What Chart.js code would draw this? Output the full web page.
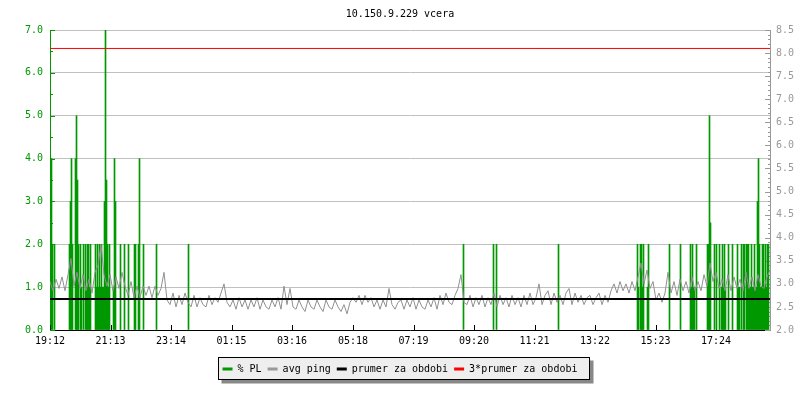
<!DOCTYPE html>
<html>
<head>
<meta charset="utf-8">
<title>10.150.9.229 vcera</title>
<script src="https://cdn.jsdelivr.net/npm/chart.js@4.4.0/dist/chart.umd.min.js"></script>
<style>
  html, body { margin: 0; padding: 0; background: #ffffff; }
  #wrap { width: 800px; height: 400px; }
</style>
</head>
<body>
<div id="wrap"><canvas id="myChart" width="800" height="400"></canvas></div>
<script>
// ---- data ----
const chartTitle = '10.150.9.229 vcera';
const seriesNames = ['% PL', 'avg ping', 'prumer za obdobi', '3*prumer za obdobi'];
const xTickLabels = ['19:12', '21:13', '23:14', '01:15', '03:16', '05:18', '07:19', '09:20', '11:21', '13:22', '15:23', '17:24'];

// packet loss: sample number (one sample = 2 minutes from 19:12) and % value, only non zero samples
const plSample = [1, 2, 4,
    19, 20, 21, 22,
    25, 26, 27, 28,
    30, 31, 33,
    35, 36, 37, 38, 39, 40,
    45, 46, 47, 48, 49, 50, 51, 52, 53, 54, 55, 56, 57, 58, 59,
    63, 64, 65,
    70, 74, 78, 84, 85, 88, 89, 93, 106,
    138,
    413, 443, 446, 508,
    587, 588, 590, 591, 592, 593, 597, 598,
    619, 630, 640, 641, 642, 643, 644, 646,
    657, 658, 659, 660,
    664, 666, 669, 671, 672, 673, 674, 675,
    678, 682, 687, 688, 689, 691, 693, 694, 696, 697, 698,
    699, 700, 701, 702, 703, 704, 705, 706, 707, 708, 709, 710, 711, 712, 713, 714, 715, 716, 717, 718];
const plValue = [4, 2, 2,
    2, 3, 4, 2,
    4, 5, 3.5, 2,
    2, 1, 2,
    2, 1, 2, 2, 1, 2,
    2, 1, 2, 1, 2, 1, 2, 1, 1, 3, 7, 3.5, 2, 1, 2,
    1, 4, 3,
    2, 2, 2, 2, 2, 2, 4, 2, 2,
    2,
    2, 2, 2, 2,
    2, 1, 2, 2, 1, 2, 1, 2,
    2, 2, 2, 1, 2, 1, 1, 2,
    2, 2, 5, 2.5,
    2, 2, 2, 1, 2, 1, 2, 1,
    2, 2, 2, 1, 1, 2, 2, 2, 2, 2, 2,
    1, 1, 2, 1, 1, 2, 1, 1, 3, 4, 2, 1, 1, 2, 2, 1, 2, 1, 2, 2];

// avg ping (right axis), one value every 6 minutes from 19:12
const avgPing = [
    3.05, 2.85, 3.1, 2.9, 3.15, 2.85, 3.2, 3.55, 2.95, 3.25,
    2.9, 3.2, 2.85, 3.1, 2.8, 3.25, 3.4, 3.85, 3.2, 2.95,
    3.2, 2.85, 3.15, 2.9, 3.25, 2.95, 2.75, 3.05, 2.7, 2.95,
    2.7, 2.95, 2.75, 2.95, 2.7, 2.95, 2.75, 2.9, 3.25, 2.65,
    2.55, 2.8, 2.5, 2.75, 2.55, 2.8, 2.6, 2.5, 2.75, 2.5,
    2.7, 2.55, 2.5, 2.75, 2.55, 2.7, 2.6, 2.8, 3.0, 2.6,
    2.5, 2.65, 2.45, 2.7, 2.5, 2.65, 2.45, 2.65, 2.5, 2.7,
    2.45, 2.65, 2.5, 2.45, 2.65, 2.5, 2.7, 2.45, 2.95, 2.55,
    2.9, 2.5, 2.45, 2.65, 2.5, 2.4, 2.65, 2.5, 2.45, 2.65,
    2.5, 2.4, 2.65, 2.5, 2.45, 2.65, 2.5, 2.4, 2.55, 2.35,
    2.6, 2.7, 2.6, 2.75, 2.55, 2.75, 2.6, 2.7, 2.5, 2.65,
    2.45, 2.65, 2.5, 2.9, 2.55, 2.45, 2.6, 2.65, 2.45, 2.65,
    2.5, 2.7, 2.45, 2.65, 2.5, 2.45, 2.65, 2.5, 2.7, 2.45,
    2.75, 2.55, 2.8, 2.6, 2.55, 2.75, 2.9, 3.2, 2.6, 2.55,
    2.75, 2.5, 2.7, 2.55, 2.75, 2.5, 2.7, 2.55, 2.8, 2.5,
    2.75, 2.55, 2.7, 2.5, 2.75, 2.55, 2.7, 2.5, 2.75, 2.55,
    2.8, 2.55, 2.7, 3.0, 2.55, 2.75, 2.85, 2.55, 2.8, 2.6,
    2.75, 2.55, 2.8, 2.9, 2.55, 2.8, 2.6, 2.75, 2.55, 2.7,
    2.75, 2.55, 2.7, 2.8, 2.55, 2.75, 2.6, 2.85, 3.0, 2.8,
    3.05, 2.85, 3.0, 2.8, 3.05, 2.85, 3.15, 3.45, 3.0, 3.3,
    2.9, 3.05, 2.65, 2.8, 2.6, 2.8, 3.25, 2.8, 3.05, 2.75,
    3.1, 2.85, 3.05, 2.8, 3.15, 2.85, 3.05, 2.85, 3.2, 2.95,
    3.45, 3.05, 3.25, 2.9, 3.1, 2.85, 3.2, 2.85, 3.15, 2.9,
    3.1, 2.85, 3.25, 2.9, 3.15, 2.85, 3.2, 2.95, 2.9, 3.15,
    3.3];

const pingMean = 2.67;     // prumer za obdobi
const pingMean3 = 8.1;     // 3*prumer za obdobi

const sampleMinutes = 2;
const pingStepMinutes = 6;
const periodMinutes = 1440;

// ---- styles ----
const GREEN = '#009900';
const GRAY = '#999999';
const PING_GRAY = '#909090';
const GRID = '#c0c0c0';
const FONT = 'DejaVu Sans Mono';

document.addEventListener('DOMContentLoaded', function () {

    Chart.defaults.font.family = FONT;
    Chart.defaults.font.size = 10;
    Chart.defaults.color = '#000000';

    // minutes since the first label, used as tick positions
    function minutesFromStart(label) {
        let p = label.split(':');
        let p0 = xTickLabels[0].split(':');
        let m = (parseInt(p[0]) * 60 + parseInt(p[1])) - (parseInt(p0[0]) * 60 + parseInt(p0[1]));
        if (m < 0) m += 1440;
        return m;
    }
    let xTickMinutes = xTickLabels.map(minutesFromStart);

    let plData = plSample.map(function (s, i) {
        return {x: s * sampleMinutes + sampleMinutes / 2, y: plValue[i]};
    });
    let pingData = avgPing.map(function (v, i) {
        return {x: i * pingStepMinutes, y: v};
    });

    // small inner tick marks like rrd graphs
    const innerTicks = {
        id: 'innerTicks',
        beforeDatasetsDraw(chart) {
            const ctx = chart.ctx;
            const a = chart.chartArea;
            const sy = chart.scales.y, sy1 = chart.scales.y1, sx = chart.scales.x;
            ctx.save();
            ctx.lineWidth = 1;
            ctx.beginPath();
            ctx.strokeStyle = GREEN;
            for (let k = sy.min * 2; k <= sy.max * 2; k++) {
                let y = Math.round(sy.getPixelForValue(k / 2)) + 0.5;
                let len = k % 2 === 0 ? 5 : 3;
                ctx.moveTo(a.left, y);
                ctx.lineTo(a.left + len, y);
            }
            ctx.stroke();
            ctx.beginPath();
            ctx.strokeStyle = GRAY;
            for (let k = Math.round(sy1.min * 10); k <= Math.round(sy1.max * 10); k++) {
                let y = Math.round(sy1.getPixelForValue(k / 10)) + 0.5;
                let len = k % 5 === 0 ? 5 : 2;
                ctx.moveTo(a.right, y);
                ctx.lineTo(a.right - len, y);
            }
            ctx.stroke();
            ctx.beginPath();
            ctx.strokeStyle = '#000000';
            sx.ticks.forEach(function (t) {
                let x = Math.round(sx.getPixelForValue(t.value)) + 0.5;
                ctx.moveTo(x, a.bottom);
                ctx.lineTo(x, a.bottom - 5);
            });
            ctx.stroke();
            ctx.restore();
        }
    };

    // framed legend box with a shadow
    const legendBox = {
        id: 'legendBox',
        beforeDraw(chart) {
            const boxes = chart.legend && chart.legend.legendHitBoxes;
            if (!boxes || !boxes.length) return;
            let left = Math.min.apply(null, boxes.map(function (b) { return b.left; }));
            let right = Math.max.apply(null, boxes.map(function (b) { return b.left + b.width; }));
            let top = boxes[0].top;
            const ctx = chart.ctx;
            let x = Math.round(left) - 4.5;
            let y = Math.round(top) - 6.5;
            let w = Math.round(right - left) + 16;
            let h = 22;
            ctx.save();
            ctx.fillStyle = '#888888';
            ctx.fillRect(x + 3, y + 3, w + 1, h + 1);
            ctx.fillStyle = '#eeeeee';
            ctx.fillRect(x, y, w, h);
            ctx.strokeStyle = '#000000';
            ctx.lineWidth = 1;
            ctx.strokeRect(x, y, w, h);
            ctx.restore();
        }
    };

    var ctx = document.getElementById('myChart').getContext('2d');
    var chart = new Chart(ctx, {
        type: 'line',
        data: {
            datasets: [{
                type: 'bar',
                label: seriesNames[0],
                data: plData,
                backgroundColor: GREEN,
                borderColor: GREEN,
                borderWidth: 0,
                barThickness: 1,
                yAxisID: 'y',
                order: 4
            }, {
                label: seriesNames[1],
                data: pingData,
                borderColor: PING_GRAY,
                backgroundColor: GRAY,
                borderWidth: 1,
                pointRadius: 0,
                tension: 0,
                yAxisID: 'y1',
                order: 3
            }, {
                label: seriesNames[2],
                data: [{x: 0, y: pingMean}, {x: periodMinutes, y: pingMean}],
                borderColor: '#000000',
                backgroundColor: '#000000',
                borderWidth: 2,
                pointRadius: 0,
                yAxisID: 'y1',
                order: 2
            }, {
                label: seriesNames[3],
                data: [{x: 0, y: pingMean3}, {x: periodMinutes, y: pingMean3}],
                borderColor: '#ff0000',
                backgroundColor: '#ff0000',
                borderWidth: 1,
                pointRadius: 0,
                yAxisID: 'y1',
                order: 1
            }]
        },
        options: {
            responsive: false,
            animation: false,
            devicePixelRatio: 1,
            layout: { padding: { top: 0, left: 0, right: 0, bottom: 16 } },
            plugins: {
                title: {
                    display: true,
                    text: chartTitle,
                    color: '#000000',
                    font: { family: FONT, size: 10, weight: 'normal' },
                    padding: { top: 8, bottom: 10 }
                },
                legend: {
                    position: 'bottom',
                    labels: {
                        boxWidth: 10,
                        boxHeight: 3,
                        padding: 6,
                        color: '#000000',
                        font: { family: FONT, size: 10 },
                        sort: function (a, b) { return a.datasetIndex - b.datasetIndex; },
                        generateLabels: function (chart) {
                            let items = Chart.defaults.plugins.legend.labels.generateLabels(chart);
                            items.forEach(function (item) {
                                item.lineWidth = 0;
                                item.fillStyle = chart.data.datasets[item.datasetIndex].backgroundColor;
                            });
                            return items;
                        }
                    }
                },
                tooltip: { enabled: false }
            },
            scales: {
                x: {
                    type: 'linear',
                    min: 0,
                    max: periodMinutes,
                    offset: false,
                    grid: { display: false, drawTicks: false, offset: false },
                    border: { display: true, color: '#000000', width: 1 },
                    ticks: {
                        autoSkip: false,
                        maxRotation: 0,
                        padding: 5,
                        color: '#000000',
                        callback: function (v, i) { return xTickLabels[i]; }
                    },
                    afterBuildTicks: function (scale) {
                        scale.ticks = xTickMinutes.map(function (m) { return {value: m}; });
                    },
                    afterFit: function (scale) { scale.height = 28; }
                },
                y: {
                    position: 'left',
                    min: 0,
                    max: 7,
                    grid: { color: GRID, drawTicks: false, z: -1 },
                    border: { display: true, color: GREEN, width: 1 },
                    ticks: {
                        stepSize: 1,
                        padding: 7,
                        color: GREEN,
                        callback: function (v) { return v.toFixed(1); }
                    },
                    afterFit: function (scale) { scale.width = 50; }
                },
                y1: {
                    position: 'right',
                    min: 2,
                    max: 8.5,
                    grid: { display: false, drawTicks: false },
                    border: { display: true, color: GRAY, width: 1 },
                    ticks: {
                        stepSize: 0.5,
                        padding: 6,
                        color: GRAY,
                        callback: function (v) { return v.toFixed(1); }
                    },
                    afterFit: function (scale) { scale.width = 30; }
                }
            }
        },
        plugins: [innerTicks, legendBox]
    });

    console.log('chart area', chart.chartArea);
});
</script>
</body>
</html>
